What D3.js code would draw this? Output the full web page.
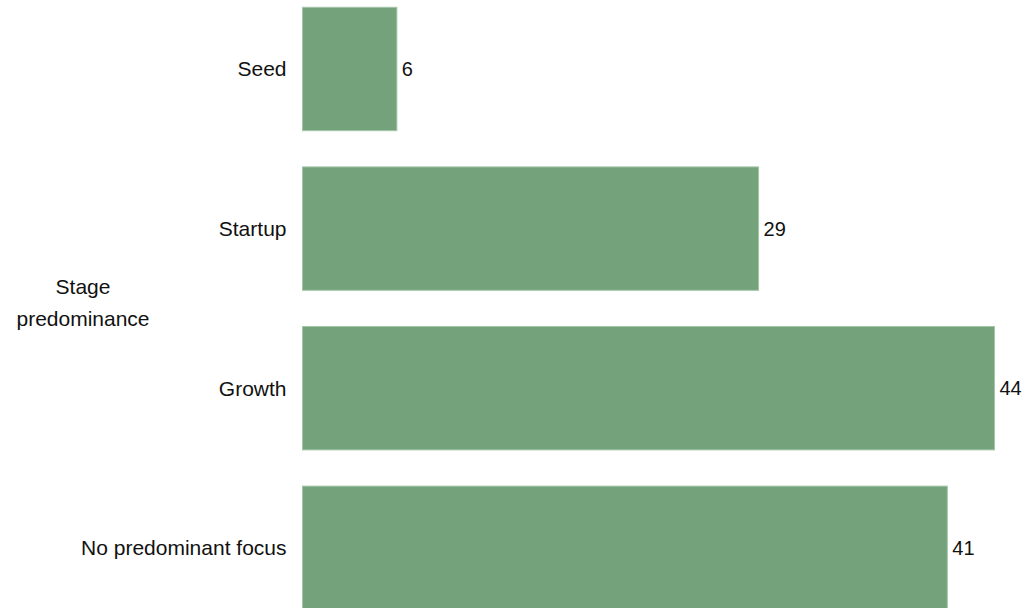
<!DOCTYPE html>
<html><head><meta charset="utf-8">
<script src="https://cdn.jsdelivr.net/npm/d3@7"></script>
<style>
html,body{margin:0;padding:0;background:#fff;overflow:hidden}
svg{display:block}
text{font-family:"Liberation Sans",Arial,sans-serif;font-size:21px;fill:#111}
text.val{font-size:20px}
</style></head>
<body>
<svg id="c" width="1022" height="608"></svg>
<script>
const categories = ["Seed", "Startup", "Growth", "No predominant focus"];
const values = [6, 29, 44, 41];
const axisTitle = ["Stage", "predominance"];

const svg = d3.select("#c");
const x = d3.scaleLinear().domain([0, 44]).range([302.5, 994.5]);
const y = d3.scaleBand().domain(categories).range([7.3, 609.5]).paddingInner(0.227).paddingOuter(0);

const data = categories.map((c, i) => ({c, v: values[i]}));

svg.selectAll("rect.bar").data(data).join("rect")
  .attr("class", "bar")
  .attr("x", x(0))
  .attr("y", d => y(d.c))
  .attr("width", d => x(d.v) - x(0))
  .attr("height", y.bandwidth())
  .attr("fill", "#73a27b")
  .attr("stroke", "#a3c6a8")
  .attr("stroke-width", 1);

const yAxis = d3.axisLeft(y).tickSize(0).tickPadding(0);
const gy = svg.append("g").attr("transform", `translate(${x(0) - 16},0)`).call(yAxis);
gy.select(".domain").remove();
gy.selectAll("text").attr("font-size", null).attr("font-family", null).style("fill", "#111").attr("dy", "0.35em");

svg.selectAll("text.val").data(data).join("text")
  .attr("class", "val")
  .attr("x", d => x(d.v) + 5)
  .attr("y", d => y(d.c) + y.bandwidth() / 2)
  .attr("dy", "0.35em")
  .text(d => d.v);

const t = svg.append("text").attr("text-anchor", "middle");
axisTitle.forEach((s, i) => {
  t.append("tspan").attr("x", 83).attr("y", 294 + i * 32).text(s);
});
</script>
</body></html>
